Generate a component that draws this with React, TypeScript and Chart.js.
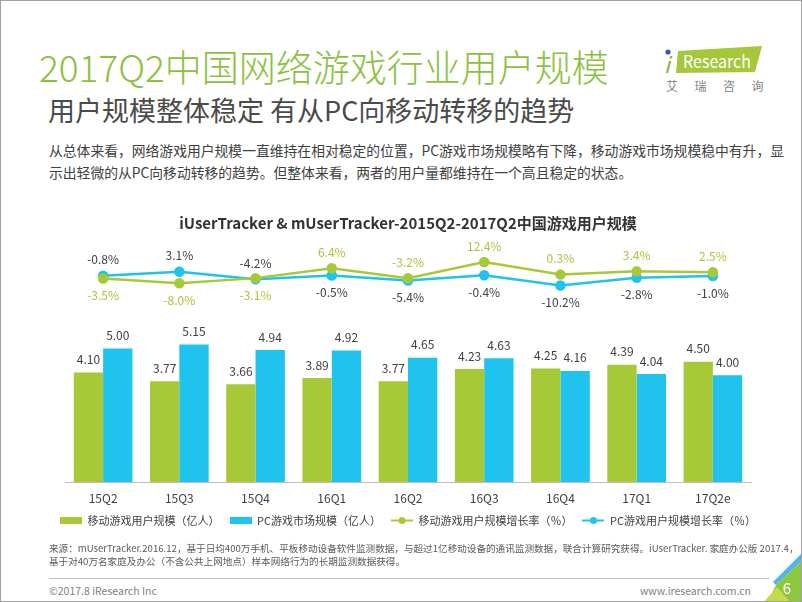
import React, { useEffect, useRef } from "react";
import { Chart, registerables } from "chart.js";

Chart.register(...registerables);

// ---------- data ----------
const categories = ["15Q2", "15Q3", "15Q4", "16Q1", "16Q2", "16Q3", "16Q4", "17Q1", "17Q2e"];
const mobileUsers = [4.10, 3.77, 3.66, 3.89, 3.77, 4.23, 4.25, 4.39, 4.50];
const pcUsers = [5.00, 5.15, 4.94, 4.92, 4.65, 4.63, 4.16, 4.04, 4.00];
const mobileGrowth = [-3.5, -8.0, -3.1, 6.4, -3.2, 12.4, 0.3, 3.4, 2.5];
const pcGrowth = [-0.8, 3.1, -4.2, -0.5, -5.4, -0.4, -10.2, -2.8, -1.0];
const seriesNames = [
  "移动游戏用户规模（亿人）",
  "PC游戏市场规模（亿人）",
  "移动游戏用户规模增长率（％）",
  "PC游戏用户规模增长率（％）",
];
const mobileGrowthLabelSide = ["below", "below", "below", "above", "above", "above", "above", "above", "above"];
const pcGrowthLabelSide = ["above", "above", "above", "below", "below", "below", "below", "below", "below"];

const chartTitle = "iUserTracker & mUserTracker-2015Q2-2017Q2中国游戏用户规模";

// ---------- styles ----------
const FONT = "'Noto Sans CJK SC', 'Noto Sans', sans-serif";
const GREEN = "#A8C937";
const BLUE = "#1FC3EE";
const TEXT = "#404040";

function boxMarker(color: string) {
  const c = document.createElement("canvas");
  c.width = 22;
  c.height = 7;
  const g = c.getContext("2d")!;
  g.fillStyle = color;
  g.fillRect(0, 0, 22, 7);
  return c;
}
function lineMarker(color: string) {
  const c = document.createElement("canvas");
  c.width = 22;
  c.height = 9;
  const g = c.getContext("2d")!;
  g.strokeStyle = color;
  g.fillStyle = color;
  g.lineWidth = 2;
  g.beginPath();
  g.moveTo(0, 4.5);
  g.lineTo(22, 4.5);
  g.stroke();
  g.beginPath();
  g.arc(11, 4.5, 3.5, 0, Math.PI * 2);
  g.fill();
  return c;
}

const valueLabelPlugin = {
  id: "valueLabels",
  afterDatasetsDraw(chart: any) {
    const ctx = chart.ctx;
    ctx.save();
    ctx.textAlign = "center";
    ctx.textBaseline = "middle";
    ctx.font = `12px ${FONT}`;
    chart.data.datasets.forEach((ds: any, di: number) => {
      const meta = chart.getDatasetMeta(di);
      meta.data.forEach((el: any, i: number) => {
        const v = ds.data[i];
        if (ds.type === "bar") {
          ctx.fillStyle = TEXT;
          ctx.fillText(v.toFixed(2), el.x, el.y - 13);
        } else {
          const side = ds.labelSide[i];
          ctx.fillStyle = ds.labelColor;
          ctx.fillText(v.toFixed(1) + "%", el.x, side === "above" ? el.y - 16 : el.y + 17);
        }
      });
    });
    ctx.restore();
  },
};

function GrowthChart() {
  const ref = useRef<HTMLCanvasElement>(null);
  useEffect(() => {
    if (!ref.current) return;
    const markers = [boxMarker(GREEN), boxMarker(BLUE), lineMarker(GREEN), lineMarker(BLUE)];
    const chart = new Chart(ref.current, {
      type: "bar",
      data: {
        labels: categories,
        datasets: [
          {
            type: "bar",
            label: seriesNames[0],
            data: mobileUsers,
            backgroundColor: GREEN,
            yAxisID: "y",
            categoryPercentage: 0.77,
            barPercentage: 1,
            order: 2,
          } as any,
          {
            type: "bar",
            label: seriesNames[1],
            data: pcUsers,
            backgroundColor: BLUE,
            yAxisID: "y",
            categoryPercentage: 0.77,
            barPercentage: 1,
            order: 2,
          } as any,
          {
            type: "line",
            label: seriesNames[2],
            data: mobileGrowth,
            borderColor: GREEN,
            backgroundColor: GREEN,
            borderWidth: 2.5,
            pointRadius: 4,
            pointHoverRadius: 4,
            yAxisID: "y2",
            order: 1,
            labelSide: mobileGrowthLabelSide,
            labelColor: "#A6C63C",
          } as any,
          {
            type: "line",
            label: seriesNames[3],
            data: pcGrowth,
            borderColor: BLUE,
            backgroundColor: BLUE,
            borderWidth: 2.5,
            pointRadius: 4,
            pointHoverRadius: 4,
            yAxisID: "y2",
            order: 1,
            labelSide: pcGrowthLabelSide,
            labelColor: TEXT,
          } as any,
        ],
      },
      options: {
        responsive: false,
        animation: false,
        layout: { padding: { left: 14, right: 2, top: 0, bottom: 10 } },
        scales: {
          x: {
            grid: { display: false, drawTicks: false },
            border: { display: true, color: "#BFBFBF", width: 1 },
            ticks: { color: TEXT, font: { size: 12, family: FONT }, padding: 9 },
            afterFit(s: any) {
              s.height = 23;
            },
          },
          y: {
            position: "left",
            min: 0,
            max: 9,
            grid: { display: false },
            border: { display: false },
            ticks: { display: false },
            afterFit(s: any) {
              s.width = 50;
            },
          },
          y2: {
            position: "right",
            min: -199,
            max: 32,
            grid: { display: false },
            border: { display: false },
            ticks: { display: false },
            afterFit(s: any) {
              s.width = 50;
            },
          },
        } as any,
        plugins: {
          title: {
            display: true,
            text: chartTitle,
            color: "#333333",
            font: { size: 15, weight: "bold", family: FONT },
            padding: { top: 13, bottom: 9.6 },
          },
          legend: {
            position: "bottom",
            labels: {
              usePointStyle: true,
              pointStyleWidth: 22,
              padding: 10,
              color: TEXT,
              font: { size: 11, family: FONT },
              generateLabels: (c: any) =>
                c.data.datasets.map((ds: any, i: number) => ({
                  text: ds.label,
                  pointStyle: markers[i],
                  fillStyle: "rgba(0,0,0,0)",
                  strokeStyle: "rgba(0,0,0,0)",
                  lineWidth: 0,
                  hidden: false,
                  datasetIndex: i,
                  fontColor: TEXT,
                })),
            },
          },
          tooltip: { enabled: false },
        },
      },
      plugins: [valueLabelPlugin],
    });
    return () => chart.destroy();
  }, []);
  return (
    <canvas
      ref={ref}
      width={802}
      height={345}
      style={{ position: "absolute", left: 0, top: 200, width: 802, height: 345 }}
    />
  );
}

export default function App() {
  const abs = (o: any) => ({ position: "absolute", margin: 0, whiteSpace: "nowrap", fontFamily: FONT, ...o });
  return (
    <div
      style={{
        position: "absolute",
        left: 0,
        top: 0,
        width: 802,
        height: 602,
        boxSizing: "border-box",
        border: "1px solid #A0A0A0",
        background: "#fff",
        overflow: "hidden",
        fontFamily: FONT,
      }}
    >
      <div style={abs({ left: 38, top: 47, fontSize: 37, lineHeight: "37px", fontWeight: 300, color: "#8CC13F" })}>
        2017Q2中国网络游戏行业用户规模
      </div>
      <div style={abs({ left: 47, top: 95, fontSize: 27, lineHeight: "27px", fontWeight: 400, color: "#4A4A4A" })}>
        用户规模整体稳定 有从PC向移动转移的趋势
      </div>
      <div style={abs({ left: 48, top: 138, fontSize: 13.8, lineHeight: "22px", color: TEXT })}>
        从总体来看，网络游戏用户规模一直维持在相对稳定的位置，PC游戏市场规模略有下降，移动游戏市场规模稳中有升，显
        <br />
        示出轻微的从PC向移动转移的趋势。但整体来看，两者的用户量都维持在一个高且稳定的状态。
      </div>

      {/* logo */}
      <svg style={{ position: "absolute", left: 655, top: 38 }} width={115} height={40}>
        <polygon points="22,12 106,7 99,33 20,34" fill="#A5C83A" />
        <text x={8} y={34} fontSize={22} fill="#8BB52C" fontFamily={FONT} fontStyle="italic">
          i
        </text>
        <circle cx={12} cy={13} r={2.6} fill="#2E5DB3" />
        <text x={27} y={29} fontSize={17} fill="#fff" fontFamily={FONT} textLength={68} lengthAdjust="spacingAndGlyphs">
          Research
        </text>
      </svg>
      <div style={abs({ left: 665, top: 77, fontSize: 12, lineHeight: "16px", letterSpacing: 16.5, color: "#7F7F7F" })}>
        艾瑞咨询
      </div>

      <GrowthChart />

      {/* footnote */}
      <div style={abs({ left: 48, top: 541, fontSize: 9.6, lineHeight: "13px", color: "#595959" })}>
        来源：mUserTracker.2016.12，基于日均400万手机、平板移动设备软件监测数据，与超过1亿移动设备的通讯监测数据，联合计算研究获得。iUserTracker. 家庭办公版 2017.4，
        <br />
        基于对40万名家庭及办公（不含公共上网地点）样本网络行为的长期监测数据获得。
      </div>
      <div style={{ position: "absolute", left: 48, top: 577, width: 720, height: 1, background: "#BFBFBF" }} />
      <div style={abs({ left: 48, top: 583, fontSize: 10.5, lineHeight: "14px", color: "#7F7F7F" })}>©2017.8 iResearch Inc</div>
      <div style={abs({ right: 50, top: 583, fontSize: 10.5, lineHeight: "14px", color: "#7F7F7F" })}>www.iresearch.com.cn</div>

      {/* corner decoration (page coords minus 740,540) */}
      <svg style={{ position: "absolute", left: 740, top: 540 }} width={62} height={62}>
        <polygon points="32,41 62,11 62,19 35,44" fill="#4DB8E8" />
        <polygon points="35,44 62,19 62,62 26,62" fill="#8DC63F" />
        <polygon points="22,62 36,46 50,62" fill="#C5DB4A" />
        <text x={46} y={53} fontSize={15} fill="#fff" fontFamily={FONT} textAnchor="middle">
          6
        </text>
      </svg>
    </div>
  );
}
